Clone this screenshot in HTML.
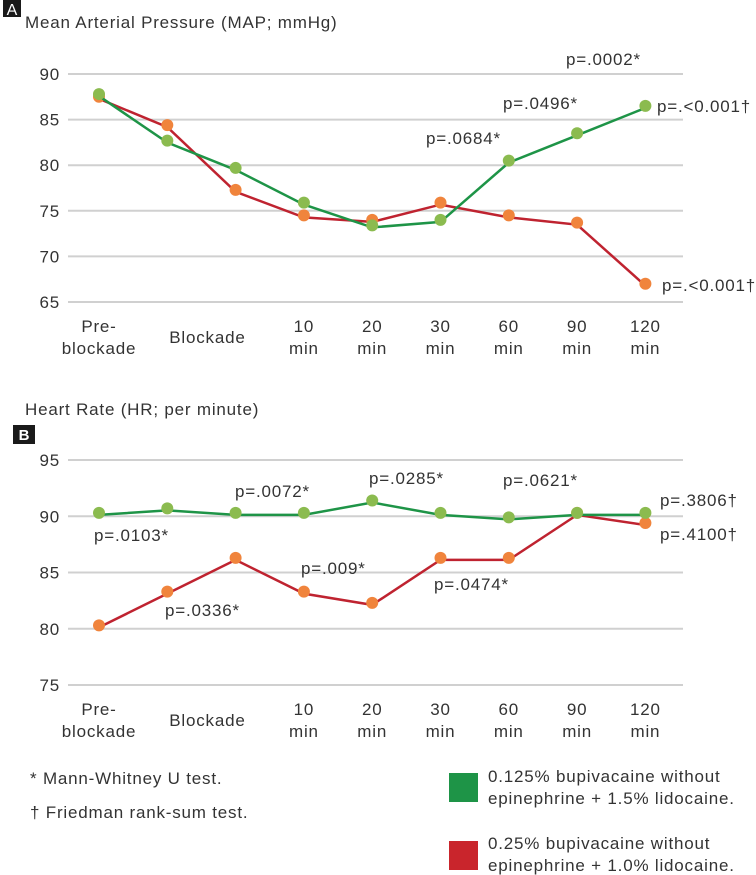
<!DOCTYPE html>
<html><head><meta charset="utf-8">
<style>
html,body{margin:0;padding:0;background:#fff;}
svg{display:block;font-family:"Liberation Sans",Arial,sans-serif;}
svg text{letter-spacing:0.8px;}
</style></head>
<body>
<svg id="fig" width="756" height="875" viewBox="0 0 756 875">
<rect x="0" y="0" width="756" height="875" fill="#fff"/>
<rect x="3" y="0" width="18" height="17" fill="#1a1a1a"/>
<text x="12" y="15" font-size="16" fill="#fff" text-anchor="middle" style="letter-spacing:0">A</text>
<text x="25" y="28" font-size="17" fill="#333">Mean Arterial Pressure (MAP; mmHg)</text>
<text x="25" y="415" font-size="17" fill="#333">Heart Rate (HR; per minute)</text>
<rect x="13" y="425" width="22" height="19" fill="#1a1a1a"/>
<text x="24" y="440" font-size="15" font-weight="bold" fill="#fff" text-anchor="middle" style="letter-spacing:0">B</text>
<g id="chartA"></g>
<g id="chartB"></g>
<text x="30" y="784" font-size="17" fill="#333">* Mann-Whitney U test.</text>
<text x="30" y="818" font-size="17" fill="#333">† Friedman rank-sum test.</text>
<g>
<rect x="449" y="773" width="29" height="29" fill="#1e9447"/>
<text x="488" y="782" font-size="17" fill="#333"><tspan x="488">0.125% bupivacaine without</tspan><tspan x="488" dy="22">epinephrine + 1.5% lidocaine.</tspan></text>
<rect x="449" y="841" width="29" height="29" fill="#c9252c"/>
<text x="488" y="849" font-size="17" fill="#333"><tspan x="488">0.25% bupivacaine without</tspan><tspan x="488" dy="22">epinephrine + 1.0% lidocaine.</tspan></text>
</g>
</svg>
<script>
const categories = ["Pre-blockade","","Blockade","10 min","20 min","30 min","60 min","90 min","120 min"];
const mapTicks = [65,70,75,80,85,90];
const mapGreen = [87.8,82.7,79.7,75.9,73.4,74.0,80.5,83.5,86.5];
const mapRed = [87.5,84.4,77.3,74.5,74.0,75.9,74.5,73.7,67.0];
const hrTicks = [75,80,85,90,95];
const hrGreen = [90.3,90.7,90.3,90.3,91.4,90.3,89.9,90.3,90.3];
const hrRed = [80.3,83.3,86.3,83.3,82.3,86.3,86.3,90.3,89.4];

const NS="http://www.w3.org/2000/svg";
function mk(tag,attrs,parent,txt){const e=document.createElementNS(NS,tag);for(const k in attrs)e.setAttribute(k,attrs[k]);if(txt!==undefined)e.textContent=txt;parent.appendChild(e);return e;}
function xPos(i){return 99+i*68.3;}

function drawChart(g,ticks,y0,yPerUnit,minV,green,red,name){
  const y=v=>y0-(v-minV)*yPerUnit;
  ticks.forEach(t=>{
    const l=mk('line',{x1:68,x2:683,y1:y(t),y2:y(t),stroke:'#d0d0d0','stroke-width':2},g);
    
    
    const tx=mk('text',{x:60,y:y(t)+6,'font-size':17,fill:'#333','text-anchor':'end'},g,String(t));
    
    
  });
  const labY=y(ticks[0])+30;
  categories.forEach((c,i)=>{
    if(!c)return;
    let cx=xPos(i), lines;
    if(c==="Blockade"){cx=(xPos(1)+xPos(2))/2+6;lines=["Blockade"];}
    else if(c==="Pre-blockade"){lines=["Pre-","blockade"];}
    else lines=c.split(" ");
    const t=mk('text',{x:cx,'font-size':17,fill:'#333','text-anchor':'middle'},g);
    
    
    if(lines.length===1){mk('tspan',{x:cx,y:labY+11},t,lines[0]);}
    else{mk('tspan',{x:cx,y:labY},t,lines[0]);mk('tspan',{x:cx,y:labY+22},t,lines[1]);}
  });
  [[red,'#bf2330','#f0843c','red'],[green,'#1e9447','#8bbb4f','green']].forEach(([vals,lc,mc,sn])=>{
    const pts=vals.map((v,i)=>xPos(i)+','+(y(v)+2)).join(' ');
    const pl=mk('polyline',{points:pts,fill:'none',stroke:lc,'stroke-width':2.5},g);
    
    
    vals.forEach((v,i)=>{
      const c=mk('circle',{cx:xPos(i),cy:y(v),r:6,fill:mc},g);
      
      
    });
  });
  return y;
}
function addText(g,x,yy,s,n){
  const t=mk('text',{x:x,y:yy,'font-size':17,fill:'#333'},g,s);
  
  
}
const gA=document.getElementById('chartA');
drawChart(gA,mapTicks,302,9.12,65,mapGreen,mapRed,'map');
addText(gA,426,144,"p=.0684*","map-pvalue-30min");
addText(gA,503,109,"p=.0496*","map-pvalue-60min");
addText(gA,566,65,"p=.0002*","map-pvalue-90min");
addText(gA,657,112,"p=.<0.001†","map-pvalue-120-green");
addText(gA,662,291,"p=.<0.001†","map-pvalue-120-red");
const gB=document.getElementById('chartB');
drawChart(gB,hrTicks,685,11.25,75,hrGreen,hrRed,'hr');
addText(gB,94,541,"p=.0103*","hr-pvalue-pre");
addText(gB,235,497,"p=.0072*","hr-pvalue-blockade");
addText(gB,369,484,"p=.0285*","hr-pvalue-20min");
addText(gB,503,486,"p=.0621*","hr-pvalue-60min");
addText(gB,660,506,"p=.3806†","hr-pvalue-120-green");
addText(gB,660,540,"p=.4100†","hr-pvalue-120-red");
addText(gB,165,616,"p=.0336*","hr-pvalue-blockade-red");
addText(gB,301,574,"p=.009*","hr-pvalue-10min-red");
addText(gB,434,590,"p=.0474*","hr-pvalue-30min-red");
</script>
</body></html>
